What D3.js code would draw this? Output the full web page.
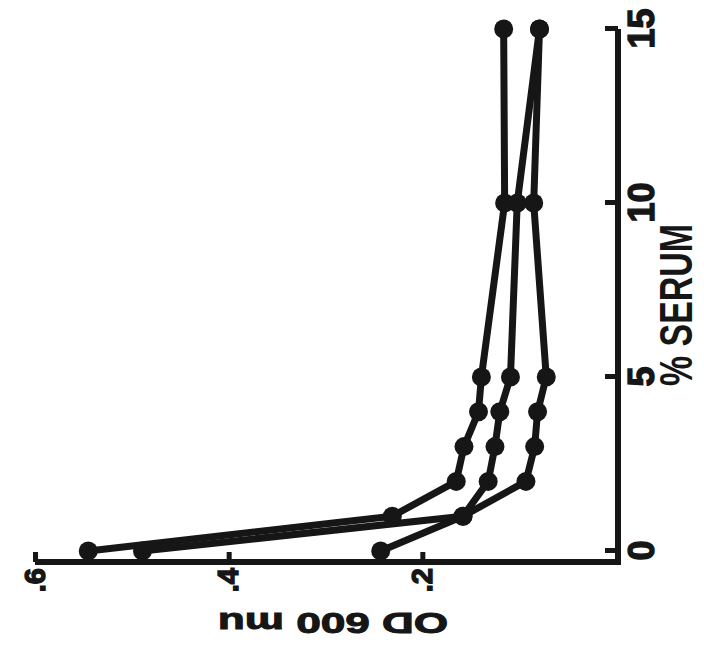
<!DOCTYPE html>
<html><head><meta charset="utf-8">
<script src="https://cdn.jsdelivr.net/npm/d3@7"></script>
<style>body{margin:0;background:#fff} svg{display:block}</style>
</head><body>
<svg id="chart" width="704" height="666"></svg>
<script>
// Data (chart is printed rotated 90° counter-clockwise)
const serum = [0, 1, 2, 3, 4, 5, 10, 15];
const odA = [0.545, 0.231, 0.165, 0.157, 0.142, 0.139, 0.115, 0.116];
const odB = [0.489, 0.158, 0.132, 0.125, 0.120, 0.109, 0.102, 0.079];
const odC = [0.243, 0.158, 0.093, 0.084, 0.081, 0.072, 0.085, 0.079];
const serumTicks = [0, 5, 10, 15];
const odTicks = [0.2, 0.4, 0.6];
const xLabel = "% SERUM";
const yLabel = "OD 600 mu";

const ink = "#161616";
const font = "'Liberation Sans', Arial, sans-serif";
const svg = d3.select("#chart");
svg.append("rect").attr("width", 704).attr("height", 666).attr("fill", "#fff");

// local frame drawn upright, then rotated -90°
const g = svg.append("g").attr("transform", "translate(0,666) rotate(-90)");
const x = d3.scaleLinear().domain([0, 15]).range([115, 637]);
const y = d3.scaleLinear().domain([0, 0.6]).range([616, 35]);
const axisV = 618, axisU = 104;

// axis lines
g.append("path")
  .attr("d", `M${axisU},${y(0.6)}L${axisU},${axisV}L${x(15)},${axisV}`)
  .attr("fill", "none").attr("stroke", ink).attr("stroke-width", 6)
  .attr("stroke-linejoin", "miter");

const xAxis = g.append("g").attr("transform", `translate(0,${axisV})`)
  .call(d3.axisBottom(x).tickValues(serumTicks).tickSizeInner(-13).tickSizeOuter(0)
    .tickPadding(10).tickFormat(d3.format("d")));
const yAxis = g.append("g").attr("transform", `translate(${axisU},0)`)
  .call(d3.axisLeft(y).tickValues(odTicks).tickSizeInner(-10).tickSizeOuter(0)
    .tickPadding(6).tickFormat(d => d3.format(".1f")(d).replace(/^0/, "")));

[xAxis, yAxis].forEach(a => {
  a.attr("font-family", null).attr("font-size", null);
  a.select(".domain").remove();
  a.selectAll(".tick line").attr("stroke", ink).attr("stroke-width", 5);
  a.selectAll(".tick text").attr("fill", ink)
    .attr("stroke", ink).attr("stroke-width", 1.4)
    .style("font-family", font).style("font-weight", "bold");
});
xAxis.selectAll(".tick text").style("font-size", "36px");
yAxis.selectAll(".tick text").style("font-size", "29px");

// series
const series = [odA, odB, odC].map(vals => serum.map((s, i) => ({ s, od: vals[i] })));
const line = d3.line().x(d => x(d.s)).y(d => y(d.od));
g.selectAll(".series").data(series).enter().append("path")
  .attr("class", "series")
  .attr("d", line).attr("fill", "none").attr("stroke", ink)
  .attr("stroke-width", 7).attr("stroke-linejoin", "round").attr("stroke-linecap", "round");
g.selectAll(".dots").data(series).enter().append("g").attr("class", "dots")
  .selectAll("circle").data(d => d).enter().append("circle")
  .attr("cx", d => x(d.s)).attr("cy", d => y(d.od)).attr("r", 9.5).attr("fill", ink);

// axis titles
g.append("text").attr("x", 361).attr("y", 692).attr("text-anchor", "middle")
  .style("font-family", font).style("font-weight", "bold").style("font-size", "46px")
  .attr("textLength", 162).attr("lengthAdjust", "spacingAndGlyphs")
  .attr("fill", ink).text(xLabel);
g.append("text").attr("transform", "translate(53,333) rotate(-90)").attr("text-anchor", "middle")
  .style("font-family", font).style("font-weight", "bold").style("font-size", "29px")
  .attr("textLength", 230).attr("lengthAdjust", "spacingAndGlyphs")
  .attr("stroke", ink).attr("stroke-width", 1)
  .attr("fill", ink).text(yLabel);
</script>
</body></html>
